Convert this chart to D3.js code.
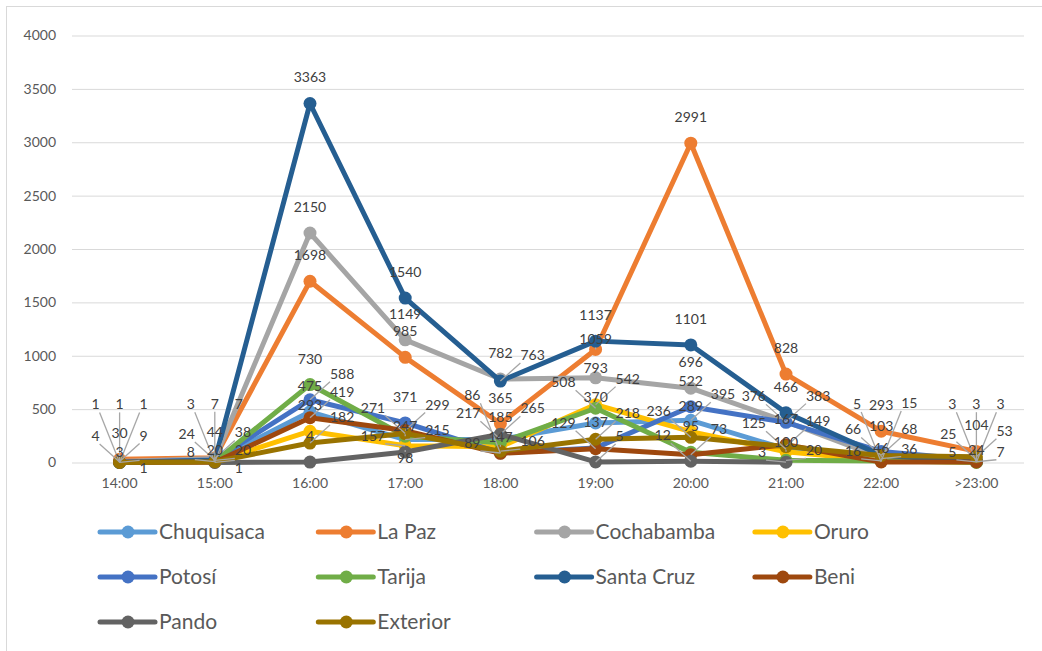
<!DOCTYPE html>
<html>
<head>
<meta charset="utf-8">
<script src="https://cdn.jsdelivr.net/npm/d3@7"></script>
<style>
  body { margin: 0; background: #fff; }
  text { font-family: Lato, "Noto Sans", sans-serif; }
</style>
</head>
<body>
<div id="chart"></div>
<script>
// categories and tick values
var hours = ["14:00", "15:00", "16:00", "17:00", "18:00", "19:00", "20:00", "21:00", "22:00", ">23:00"];
var yTicks = [0, 500, 1000, 1500, 2000, 2500, 3000, 3500, 4000];

// one array per department (null = no point)
var chuquisaca = [1, 20, 475, 215, 217, 370, 395, 125, 36, 3];
var laPaz      = [30, 44, 1698, 985, 365, 1059, 2991, 828, 293, 104];
var cochabamba = [9, 38, 2150, 1149, 782, 793, 696, 383, 46, 25];
var oruro      = [null, 7, 293, 157, 147, 542, 289, 100, 16, 3];
var potosi     = [4, 24, 588, 371, 89, 137, 522, 376, 103, 24];
var tarija     = [1, 8, 730, 247, 185, 508, 95, 20, 15, 3];
var santaCruz  = [1, 20, 3363, 1540, 763, 1137, 1101, 466, 68, 7];
var beni       = [3, 3, 419, 299, 86, 129, 73, 167, 5, 5];
var pando      = [null, 1, 4, 98, 265, 5, 12, 3, null, null];
var exterior   = [1, 7, 182, 271, 106, 218, 236, 149, 66, 53];

var seriesNames = ["Chuquisaca", "La Paz", "Cochabamba", "Oruro", "Potosí", "Tarija", "Santa Cruz", "Beni", "Pando", "Exterior"];
var seriesValues = [chuquisaca, laPaz, cochabamba, oruro, potosi, tarija, santaCruz, beni, pando, exterior];

(function() {
  var width = 1042, height = 651,
      left = 72, right = 1024;

  var colorScale = d3.scaleOrdinal()
    .domain(seriesNames)
    .range(["#5b9bd5", "#ed7d31", "#a5a5a5", "#ffc000", "#4472c4", "#70ad47", "#255e91", "#9e480e", "#636363", "#997300"]);

  var svg = d3.select("#chart")
    .append("svg")
    .attr("width", width)
    .attr("height", height);

  // chart area border (runs off the right and bottom edge)
  svg.append("rect")
    .attr("x", 6.5).attr("y", 6.5)
    .attr("width", 1100).attr("height", 700)
    .attr("fill", "none")
    .attr("stroke", "#d9d9d9");

  var x = d3.scaleBand().domain(hours).range([left, right]);
  var y = d3.scaleLinear().domain([0, 4000]).range([462.5, 35.5]);

  var yAxis = svg.append("g")
    .attr("transform", "translate(" + left + ",0)")
    .call(d3.axisLeft(y).tickValues(yTicks).tickFormat(d3.format("d")).tickSize(-(right - left)).tickPadding(16));
  yAxis.select(".domain").remove();
  yAxis.selectAll("line").attr("stroke", "#d9d9d9");
  yAxis.selectAll("text").attr("fill", "#595959").style("font-size", "14px").style("font-family", "Lato");

  var xAxis = svg.append("g")
    .attr("transform", "translate(0," + y(0) + ")")
    .call(d3.axisBottom(x).tickSize(0).tickPadding(16));
  xAxis.select(".domain").remove();
  xAxis.selectAll("text").attr("fill", "#595959").style("font-size", "14px").style("font-family", "Lato");

  var data = seriesNames.map(function(name, s) {
    return {
      name: name,
      points: seriesValues[s].map(function(v, i) { return { hour: hours[i], value: v, name: name }; })
    };
  });

  var line = d3.line()
    .defined(function(d) { return d.value !== null; })
    .x(function(d) { return x(d.hour) + x.bandwidth() / 2; })
    .y(function(d) { return y(d.value); });

  var g = svg.selectAll(".series")
    .data(data)
    .enter().append("g")
    .attr("class", "series");

  g.append("path")
    .attr("d", function(d) { return line(d.points); })
    .attr("fill", "none")
    .attr("stroke", function(d) { return colorScale(d.name); })
    .attr("stroke-width", 5)
    .attr("stroke-linejoin", "round")
    .attr("stroke-linecap", "round");

  g.selectAll("circle")
    .data(function(d) { return d.points.filter(function(p) { return p.value !== null; }); })
    .enter().append("circle")
    .attr("cx", function(d) { return x(d.hour) + x.bandwidth() / 2; })
    .attr("cy", function(d) { return y(d.value); })
    .attr("r", 6.5)
    .attr("fill", function(d) { return colorScale(d.name); });

  // data labels: above the point, nudged aside when they collide (like Excel)
  var leaders = svg.append("g");
  var labels = svg.append("g");
  var placed = [];
  var lh = 17;

  // keep the x axis labels free
  xAxis.selectAll("text").each(function() {
    var b = this.getBBox(), m = this.parentNode.transform.baseVal.consolidate().matrix;
    placed.push({ x0: b.x + m.e, x1: b.x + m.e + b.width, y0: b.y + y(0), y1: b.y + y(0) + b.height });
  });

  var dys = [0, -16, 16, -32, 32, 48, -48, 64];

  hours.forEach(function(h, i) {
    var cx = x(h) + x.bandwidth() / 2;
    var items = data
      .filter(function(d) { return d.points[i].value !== null; })
      .map(function(d) { return d.points[i]; })
      .sort(function(a, b) { return b.value - a.value; });

    items.forEach(function(p) {
      var py = y(p.value);
      var t = labels.append("text")
        .attr("text-anchor", "middle")
        .attr("fill", "#404040")
        .style("font-size", "14px")
        .text(p.value);
      var w = t.node().getComputedTextLength();
      var side = w / 2 + 20;
      var cands = [];
      dys.forEach(function(dy) {
        [0, side, -side].forEach(function(dx) { cands.push([dx, dy]); });
      });
      var best = null;
      for (var k = 0; k < cands.length; k++) {
        var lx = cx + cands[k][0], ly = py - 26 + cands[k][1];
        var box = { x0: lx - w / 2 - 2, x1: lx + w / 2 + 2, y0: ly - lh / 2, y1: ly + lh / 2 };
        var clash = placed.some(function(b) {
          return box.x0 < b.x1 && box.x1 > b.x0 && box.y0 < b.y1 && box.y1 > b.y0;
        });
        if (!clash) { best = cands[k]; placed.push(box); break; }
      }
      if (!best) best = cands[cands.length - 1];
      var lx2 = cx + best[0], ly2 = py - 26 + best[1];
      t.attr("x", lx2).attr("y", ly2 + 5);
      if (best[0] !== 0 || best[1] !== 0) {
        var ax = Math.max(lx2 - w / 2, Math.min(cx, lx2 + w / 2));
        var ay = ly2 > py ? ly2 - 8 : ly2 + 8;
        leaders.append("line")
          .attr("x1", ax).attr("y1", ay)
          .attr("x2", cx).attr("y2", py)
          .attr("stroke", "#a6a6a6")
          .attr("stroke-width", 1.3);
      }
    });
  });

  // legend
  var legend = svg.selectAll(".legend")
    .data(seriesNames)
    .enter().append("g")
    .attr("class", "legend")
    .attr("transform", function(d, i) {
      return "translate(" + (100 + (i % 4) * 218.3) + "," + (532 + Math.floor(i / 4) * 45) + ")";
    });

  legend.append("line")
    .attr("x1", 0).attr("x2", 55)
    .attr("stroke", function(d) { return colorScale(d); })
    .attr("stroke-width", 5)
    .attr("stroke-linecap", "round");

  legend.append("circle")
    .attr("cx", 28)
    .attr("r", 6.5)
    .attr("fill", function(d) { return colorScale(d); });

  legend.append("text")
    .attr("x", 59)
    .attr("y", 7)
    .attr("fill", "#595959")
    .style("font-size", "21px")
    .text(function(d) { return d; });
})();
</script>
</body>
</html>
